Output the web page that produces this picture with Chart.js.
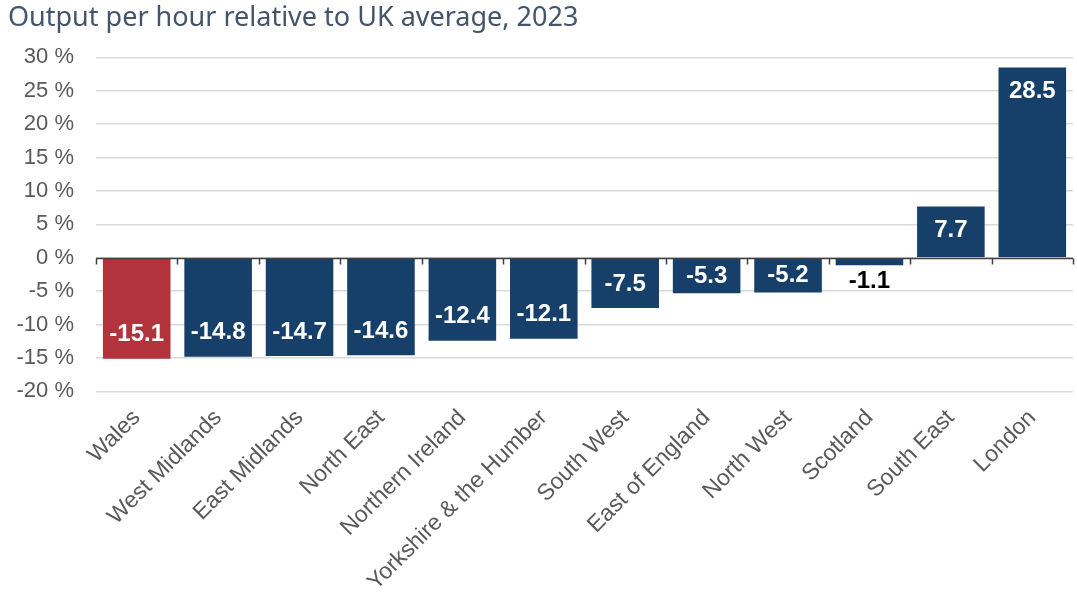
<!DOCTYPE html>
<html>
<head>
<meta charset="utf-8">
<script src="https://cdn.jsdelivr.net/npm/chart.js@4"></script>
<style>
  html, body { margin: 0; padding: 0; background: #fff; }
  #wrap { width: 1077px; height: 601px; }
</style>
</head>
<body>
<div id="wrap"><canvas id="productivityChart"></canvas></div>
<script>
var regions = ["Wales", "West Midlands", "East Midlands", "North East", "Northern Ireland",
    "Yorkshire & the Humber", "South West", "East of England", "North West", "Scotland",
    "South East", "London"];
var outputPerHour = [-15.1, -14.8, -14.7, -14.6, -12.4, -12.1, -7.5, -5.3, -5.2, -1.1, 7.7, 28.5];
var highlightRegion = "Wales";

var navy = "#16406a";
var red = "#b3333c";

// value labels inside the end of each bar, outside when the bar is too short
var barLabels = {
    id: "barLabels",
    afterDatasetsDraw(chart) {
        const ctx = chart.ctx;
        const meta = chart.getDatasetMeta(0);
        ctx.save();
        ctx.font = "bold 24px 'Liberation Sans', Arial, sans-serif";
        ctx.textAlign = "center";
        ctx.textBaseline = "middle";
        meta.data.forEach(function (bar, i) {
            const v = outputPerHour[i];
            const len = Math.abs(bar.base - bar.y);
            const dir = v < 0 ? -1 : 1;
            let y;
            if (len < 30) {
                ctx.fillStyle = "#000";
                y = bar.y - dir * 16;
            } else {
                ctx.fillStyle = "#fff";
                y = bar.y + dir * Math.min(24, len / 2);
            }
            ctx.fillText(v.toFixed(1), bar.x, y);
        });
        ctx.restore();
    },
};

// dark zero line with small ticks between categories
var zeroAxis = {
    id: "zeroAxis",
    afterDatasetsDraw(chart) {
        const ctx = chart.ctx;
        const area = chart.chartArea;
        const y0 = Math.round(chart.scales.y.getPixelForValue(0)) + 0.5;
        const step = (area.right - area.left) / regions.length;
        ctx.save();
        ctx.strokeStyle = "#404040";
        ctx.lineWidth = 1.5;
        ctx.beginPath();
        ctx.moveTo(area.left, y0);
        ctx.lineTo(area.right, y0);
        for (let i = 0; i <= regions.length; i++) {
            const x = Math.round(area.left + i * step) + 0.5;
            ctx.moveTo(x, y0);
            ctx.lineTo(x, y0 + 6);
        }
        ctx.stroke();
        ctx.restore();
    },
};

var ctx = document.getElementById("productivityChart");
var myBarChart = new Chart(ctx, {
    type: "bar",
    data: {
        labels: regions,
        datasets: [
            {
                label: "Output per hour",
                data: outputPerHour,
                backgroundColor: regions.map(function (r) {
                    return r === highlightRegion ? red : navy;
                }),
                borderWidth: 0,
                barPercentage: 0.83,
                categoryPercentage: 1,
            },
        ],
    },
    options: {
        responsive: true,
        maintainAspectRatio: false,
        animation: false,
        layout: { padding: { left: 8, right: 4, bottom: 0 } },
        plugins: {
            legend: { display: false },
            tooltip: { enabled: false },
            title: {
                display: true,
                text: "Output per hour relative to UK average, 2023",
                align: "start",
                color: "#44546a",
                font: { family: "'Noto Sans', sans-serif", size: 27, weight: "normal" },
                padding: { top: 2, bottom: 23 },
            },
        },
        scales: {
            x: {
                grid: { display: false },
                border: { display: false },
                ticks: {
                    color: "#595959",
                    font: { family: "'Liberation Sans', Arial, sans-serif", size: 23 },
                    maxRotation: 45,
                    minRotation: 45,
                    autoSkip: false,
                    padding: 5,
                },
            },
            y: {
                min: -20,
                max: 30,
                afterFit: function (scale) {
                    scale.width = 88;
                },
                grid: {
                    color: "#d9d9d9",
                    lineWidth: 1.5,
                    drawTicks: false,
                },
                border: { display: false },
                ticks: {
                    stepSize: 5,
                    color: "#595959",
                    padding: 22,
                    font: { family: "'Liberation Sans', Arial, sans-serif", size: 22 },
                    callback: function (value) {
                        return value + " %";
                    },
                },
            },
        },
    },
    plugins: [barLabels, zeroAxis],
});
</script>
</body>
</html>
